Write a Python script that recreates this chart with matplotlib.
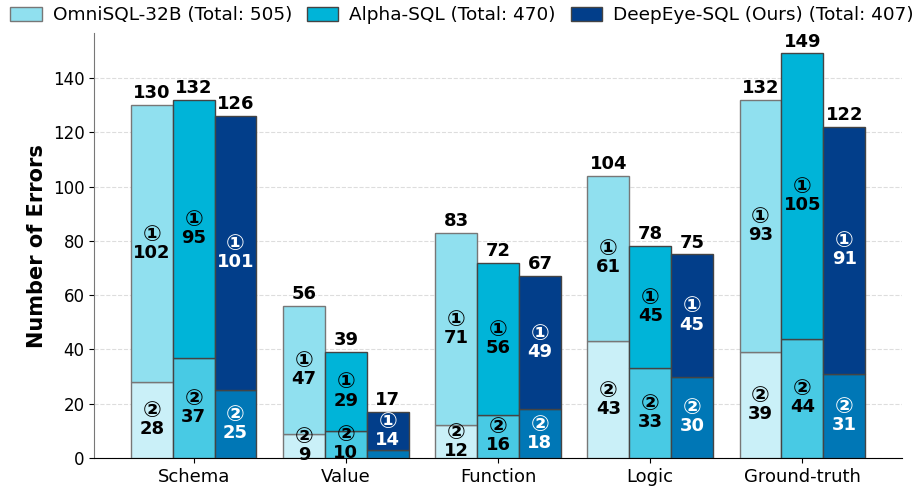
import numpy as np
import matplotlib
matplotlib.use("Agg")
import matplotlib.pyplot as plt

plt.rcParams['font.family'] = ['DejaVu Sans', 'Noto Sans CJK SC']

categories = ["Schema", "Value", "Function", "Logic", "Ground-truth"]
models = ["OmniSQL-32B", "Alpha-SQL", "DeepEye-SQL (Ours)"]

# type ② (bottom) and type ① (top) error counts
bottom_vals = [
    [28, 9, 12, 43, 39],
    [37, 10, 16, 33, 44],
    [25, 3, 18, 30, 31],
]
top_vals = [
    [102, 47, 71, 61, 93],
    [95, 29, 56, 45, 105],
    [101, 14, 49, 45, 91],
]

top_colors = ["#90E0EF", "#00B4D8", "#023E8A"]
bottom_colors = ["#CAF0F8", "#48CAE4", "#0077B6"]
text_colors = ["black", "black", "white"]
edge_colors = ["#777777", "#444444", "#444444"]

fig = plt.figure(figsize=(9.24, 4.87), dpi=100)
ax = fig.add_axes([0.102, 0.0595, 0.874, 0.8725])

x = np.arange(len(categories))
width = 0.275


def seg_label(xp, yc, mark, val, color):
    ax.annotate(mark, (xp, yc), xytext=(0, 6.5), textcoords='offset points',
                ha='center', va='center', fontsize=16, fontweight='bold', color=color, zorder=4)
    ax.annotate(str(val), (xp, yc), xytext=(0, -6.5), textcoords='offset points',
                ha='center', va='center', fontsize=13, fontweight='bold', color=color, zorder=4)


handles = []
for i, m in enumerate(models):
    pos = x + (i - 1) * width
    b = np.array(bottom_vals[i])
    t = np.array(top_vals[i])
    tot = b + t
    ax.bar(pos, b, width, color=bottom_colors[i], edgecolor=edge_colors[i], linewidth=1, zorder=3)
    h = ax.bar(pos, t, width, bottom=b, color=top_colors[i], edgecolor=edge_colors[i], linewidth=1, zorder=3,
               label=f"{m} (Total: {tot.sum()})")
    handles.append(h)
    for j in range(len(categories)):
        if b[j] >= 5:
            seg_label(pos[j], b[j] / 2, "②", b[j], text_colors[i])
        seg_label(pos[j], b[j] + t[j] / 2, "①", t[j], text_colors[i])
        ax.annotate(str(tot[j]), (pos[j], tot[j]), xytext=(0, 2), textcoords='offset points',
                    ha='center', va='bottom', fontsize=13, fontweight='bold', color='black', zorder=4)

ax.set_ylim(0, 156.5)
ax.set_xticks(x)
ax.set_xticklabels(categories, fontsize=13)
ax.tick_params(axis='y', labelsize=12)
ax.set_ylabel("Number of Errors", fontsize=15, fontweight='bold')
ax.yaxis.grid(True, linestyle='--', color='#dddddd', linewidth=0.8, zorder=0)
ax.set_axisbelow(True)
ax.spines['top'].set_visible(False)
ax.spines['right'].set_visible(False)
ax.spines['left'].set_color('#777777')

fig.legend(handles=handles, loc='upper center', bbox_to_anchor=(0.5, 1.01), ncol=3,
           frameon=False, fontsize=13.3, handlelength=1.7, handleheight=0.8, handletextpad=0.6,
           columnspacing=0.8, borderaxespad=0.2)

fig.savefig("out.png", dpi=100)
